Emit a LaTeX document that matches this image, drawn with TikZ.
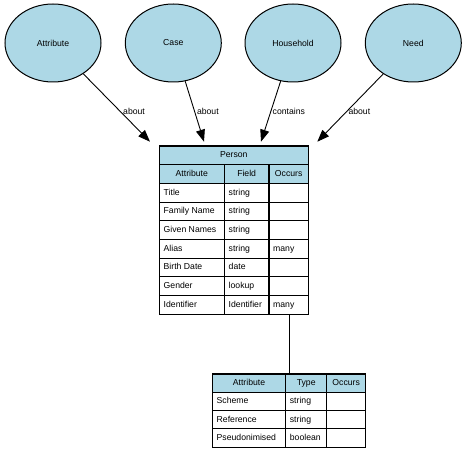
\documentclass[tikz,border=0pt]{standalone}
\usepackage{fontspec}
\setmainfont{Liberation Sans}
\usetikzlibrary{arrows.meta,shapes.geometric}
\definecolor{lblue}{RGB}{173,216,230}
\begin{document}
\begin{tikzpicture}[x=1bp,y=-1bp,font=\fontsize{8.7}{10}\selectfont,
  ent/.style={ellipse,draw=black,fill=lblue,line width=1bp,minimum width=96bp,minimum height=78bp,inner sep=0},
  rel/.style={line width=0.9bp,-{Triangle[length=12bp,width=9bp]}},
  lab/.style={inner sep=0,anchor=west},
  tbl/.style={draw=black,line width=1.3bp,inner sep=0},
  grid/.style={draw=black,line width=1.1bp},
  txt/.style={inner sep=0,text height=6.3bp,text depth=1.7bp},
  ltxt/.style={txt,anchor=west}]
\useasboundingbox (0,0) rectangle (467,460);
% entities
\node[ent] (attr) at (53,43) {Attribute};
\node[ent] (case) at (173.3,43) {Case};
\node[ent] (hh) at (293,43) {Household};
\node[ent] (need) at (413.3,43) {Need};
% arrow tips
\coordinate (t1) at (150,141.7);
\coordinate (t2) at (204,141.7);
\coordinate (t3) at (261,141.7);
\coordinate (t4) at (317.3,141.7);
\draw[rel] (attr) -- (t1);
\draw[rel] (case) -- (t2);
\draw[rel] (hh) -- (t3);
\draw[rel] (need) -- (t4);
\node[lab] (l1) at (123,111) {about};
\node[lab] (l2) at (196.8,111) {about};
\node[lab] (l3) at (272.5,111) {contains};
\node[lab] (l4) at (348.3,111) {about};
% Person table
\fill[lblue] (159.3,146) rectangle (308.3,183.4);
\foreach \y in {164.7,183.4,202.1,220.8,239.5,258.2,276.9,295.6}
  \draw[grid] (159.3,\y) -- (308.3,\y);
\foreach \x in {224.3,269}
  \draw[grid] (\x,164.7) -- (\x,314.3);
\node[tbl,minimum width=149bp,minimum height=168.3bp] (person) at (233.8,230.15) {};
\node[txt] (pt) at (233.8,155.35) {Person};
\node[txt] (ph1) at (191.8,174.05) {Attribute};
\node[txt] (ph2) at (246.65,174.05) {Field};
\node[txt] (ph3) at (288.65,174.05) {Occurs};
\node[ltxt] (pa1) at (163.5,192.75) {Title};
\node[ltxt] (pf1) at (228.5,192.75) {string};
\node[ltxt] (pa2) at (163.5,211.45) {Family Name};
\node[ltxt] (pf2) at (228.5,211.45) {string};
\node[ltxt] (pa3) at (163.5,230.15) {Given Names};
\node[ltxt] (pf3) at (228.5,230.15) {string};
\node[ltxt] (pa4) at (163.5,248.85) {Alias};
\node[ltxt] (pf4) at (228.5,248.85) {string};
\node[ltxt] (po4) at (273,248.85) {many};
\node[ltxt] (pa5) at (163.5,267.55) {Birth Date};
\node[ltxt] (pf5) at (228.5,267.55) {date};
\node[ltxt] (pa6) at (163.5,286.25) {Gender};
\node[ltxt] (pf6) at (228.5,286.25) {lookup};
\node[ltxt] (pa7) at (163.5,304.95) {Identifier};
\node[ltxt] (pf7) at (228.5,304.95) {Identifier};
\node[ltxt] (po7) at (273,304.95) {many};
% Identifier table
\fill[lblue] (212.3,374) rectangle (365.7,392.3);
\foreach \y in {392.3,410.6,428.9}
  \draw[grid] (212.3,\y) -- (365.7,\y);
\foreach \x in {285.7,326.7}
  \draw[grid] (\x,374) -- (\x,447.2);
\node[tbl,minimum width=153.4bp,minimum height=73.2bp] (ident) at (289,410.6) {};
\node[txt] (ih1) at (249,383.15) {Attribute};
\node[txt] (ih2) at (306.2,383.15) {Type};
\node[txt] (ih3) at (346.2,383.15) {Occurs};
\node[ltxt] (ia1) at (216.5,401.45) {Scheme};
\node[ltxt] (it1) at (289.7,401.45) {string};
\node[ltxt] (ia2) at (216.5,419.75) {Reference};
\node[ltxt] (it2) at (289.7,419.75) {string};
\node[ltxt] (ia3) at (216.5,438.05) {Pseudonimised};
\node[ltxt] (it3) at (289.7,438.05) {boolean};
% link
\draw[line width=1bp] (person.south -| ident.north) -- (ident.north);
\end{tikzpicture}
\end{document}
